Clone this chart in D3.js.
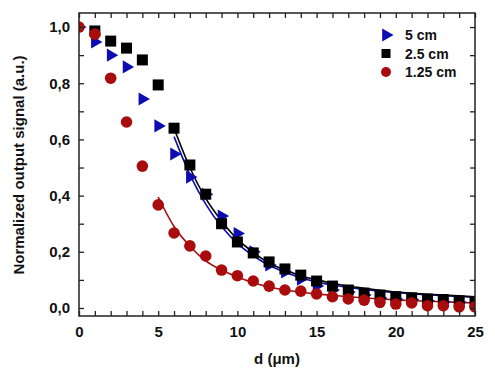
<!DOCTYPE html>
<html><head><meta charset="utf-8">
<script src="https://cdn.jsdelivr.net/npm/d3@7"></script>
<style>body{margin:0;background:#fff}text{font-family:Arial,"Liberation Sans",sans-serif;font-weight:bold}</style>
</head><body><svg id="c" width="495" height="374"></svg>
<script>
const seriesNames = ["5 cm", "2.5 cm", "1.25 cm"];
const colors = ["#0c0cb0", "#000000", "#a80c0c"];
const dPoints = [0,1,2,3,4,5,6,7,8,9,10,11,12,13,14,15,16,17,18,19,20,21,22,23,24,25];
const signal5 = [1.0,0.947,0.90,0.858,0.744,0.648,0.548,0.466,0.405,0.327,0.265,0.20,0.153,0.128,0.103,0.078,0.064,0.057,0.046,0.036,0.032,0.03,0.026,0.022,0.02,0.018];
const signal25 = [null,0.986,0.95,0.925,0.883,0.794,0.64,0.509,0.405,0.30,0.235,0.196,0.164,0.139,0.117,0.096,0.078,0.064,0.053,0.046,0.04,0.036,0.032,0.03,0.025,0.02];
const signal125 = [1.0,0.975,0.818,0.662,0.505,0.367,0.267,0.221,0.185,0.135,0.115,0.096,0.078,0.064,0.06,0.05,0.04,0.032,0.028,0.02,0.014,0.018,0.008,0.008,0.004,0.004];
const fitD5 = [6,7,8,9,10,11,12,13,14,15,16,17,18,19,20,21,22,23,24,25];
const fit5 = [0.61,0.475,0.37,0.29,0.23,0.186,0.152,0.127,0.108,0.093,0.082,0.073,0.066,0.06,0.055,0.05,0.047,0.044,0.041,0.038];
const fitD25 = [6,7,8,9,10,11,12,13,14,15,16,17,18,19,20,21,22,23,24,25];
const fit25 = [0.64,0.50,0.39,0.31,0.245,0.198,0.16,0.135,0.115,0.10,0.088,0.078,0.07,0.063,0.057,0.053,0.049,0.046,0.043,0.04];
const fitD125 = [5,6,7,8,9,10,11,12,13,14,15,16,17,18,19,20,21,22,23,24,25];
const fit125 = [0.395,0.29,0.22,0.168,0.135,0.11,0.09,0.075,0.064,0.056,0.05,0.045,0.04,0.036,0.032,0.029,0.026,0.024,0.022,0.02,0.018];
const xTicks = [0,5,10,15,20,25];
const yTicks = [0,0.2,0.4,0.6,0.8,1.0];

const svg = d3.select("#c");
const L=79,R=475,T=13,B=316;
const x = d3.scaleLinear().domain([0,25]).range([L,R]);
const y = d3.scaleLinear().domain([-0.0285,1.05]).range([B,T]);
const axCol="#222";

svg.append("defs").append("clipPath").attr("id","clip").append("rect")
  .attr("x",L).attr("y",T).attr("width",R-L).attr("height",B-T);
const plot = svg.append("g").attr("clip-path","url(#clip)");

// lines
const line = d3.line().x(d=>x(d[0])).y(d=>y(d[1])).curve(d3.curveMonotoneX);
const fits = [[fitD5,fit5],[fitD25,fit25],[fitD125,fit125]];
fits.forEach((f,i)=>{
  plot.append("path").attr("d", line(f[0].map((d,j)=>[d,f[1][j]])))
    .attr("fill","none").attr("stroke",colors[i]).attr("stroke-width",1.6);
});

// markers
const tri = d3.symbol().type(d3.symbolTriangle).size(75);
const pts = (arr)=>dPoints.map((d,i)=>[d,arr[i]]).filter(p=>p[1]!=null);
plot.selectAll(".t").data(pts(signal5)).join("path")
  .attr("d",tri).attr("fill",colors[0])
  .attr("transform",p=>`translate(${x(p[0])},${y(p[1])}) rotate(90)`);
plot.selectAll(".s").data(pts(signal25)).join("rect")
  .attr("x",p=>x(p[0])-5.5).attr("y",p=>y(p[1])-5.5)
  .attr("width",11).attr("height",11).attr("fill",colors[1]);
plot.selectAll(".c").data(pts(signal125)).join("circle")
  .attr("cx",p=>x(p[0])).attr("cy",p=>y(p[1])).attr("r",5.8).attr("fill",colors[2]);

// axes
const fmt = d3.format(".1f");
const xb = d3.axisBottom(x).tickValues(d3.range(0,26,1)).tickSize(-5).tickFormat(d=>xTicks.includes(d)?d:"").tickPadding(10);
const xt = d3.axisTop(x).tickValues(d3.range(0,26,1)).tickSize(-5).tickFormat("");
const yl = d3.axisLeft(y).tickValues(d3.range(0,1.01,0.1)).tickSize(-5).tickFormat(d=>{const r=Math.round(d*10);return r%2===0?fmt(d).replace(".",","):"";}).tickPadding(9);
const yr = d3.axisRight(y).tickValues(d3.range(0,1.01,0.1)).tickSize(-5).tickFormat("");
function style(a){a.select(".domain").remove();a.selectAll("line").attr("stroke",axCol).attr("stroke-width",1.3);a.selectAll("text").attr("font-size",15).attr("fill","#111");}
svg.append("g").attr("transform",`translate(0,${B})`).call(xb).call(style);
svg.append("g").attr("transform",`translate(0,${T})`).call(xt).call(style);
svg.append("g").attr("transform",`translate(${L},0)`).call(yl).call(style);
svg.append("g").attr("transform",`translate(${R},0)`).call(yr).call(style);
svg.append("rect").attr("x",L).attr("y",T).attr("width",R-L).attr("height",B-T).attr("fill","none").attr("stroke",axCol).attr("stroke-width",1.5);

// titles
svg.append("text").attr("x",277).attr("y",364).attr("text-anchor","middle").attr("font-size",15).attr("fill","#111").text("d (μm)");
svg.append("text").attr("transform","translate(24,165) rotate(-90)").attr("text-anchor","middle").attr("font-size",15).attr("fill","#111").text("Normalized output signal (a.u.)");

// legend
const lg = svg.append("g");
seriesNames.forEach((n,i)=>{
  const cy = 35 + i*18.5, cx = 386;
  if(i===0) lg.append("path").attr("d",tri).attr("fill",colors[0]).attr("transform",`translate(${cx},${cy}) rotate(90)`);
  if(i===1) lg.append("rect").attr("x",cx-4.5).attr("y",cy-4.5).attr("width",9).attr("height",9).attr("fill",colors[1]);
  if(i===2) lg.append("circle").attr("cx",cx).attr("cy",cy).attr("r",5).attr("fill",colors[2]);
  lg.append("text").attr("x",405).attr("y",cy+5).attr("font-size",14).attr("fill","#111").text(n);
});
</script></body></html>
